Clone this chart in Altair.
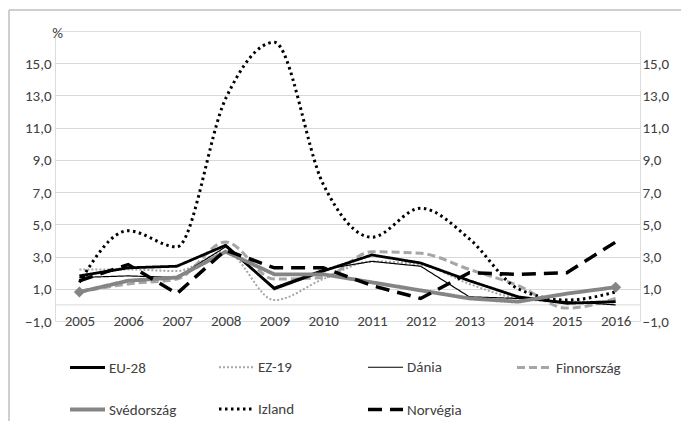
import altair as alt
import pandas as pd

years = [2005, 2006, 2007, 2008, 2009, 2010, 2011, 2012, 2013, 2014, 2015, 2016]
series_names = ["EU-28", "EZ-19", "Dánia", "Finnország", "Svédország", "Izland", "Norvégia"]
eu28 = [1.8, 2.3, 2.4, 3.7, 1.0, 2.1, 3.1, 2.6, 1.5, 0.5, 0.1, 0.2]
ez19 = [2.2, 2.2, 2.1, 3.3, 0.3, 1.6, 2.7, 2.5, 1.3, 0.4, 0.2, 0.2]
dania = [1.7, 1.8, 1.7, 3.6, 1.1, 2.2, 2.7, 2.4, 0.5, 0.4, 0.2, 0.0]
finnorszag = [0.8, 1.3, 1.6, 3.9, 1.6, 1.7, 3.3, 3.2, 2.2, 1.2, -0.2, 0.4]
svedorszag = [0.8, 1.5, 1.7, 3.3, 1.9, 1.9, 1.4, 0.9, 0.4, 0.2, 0.7, 1.1]
izland = [1.4, 4.6, 3.6, 12.8, 16.3, 7.5, 4.2, 6.0, 4.1, 1.0, 0.3, 0.8]
norvegia = [1.5, 2.5, 0.7, 3.4, 2.3, 2.3, 1.2, 0.4, 2.0, 1.9, 2.0, 3.9]
y_ticks = [-1, 1, 3, 5, 7, 9, 11, 13, 15]

values = [eu28, ez19, dania, finnorszag, svedorszag, izland, norvegia]
rows = []
for name, vals in zip(series_names, values):
    for yr, v in zip(years, vals):
        rows.append({"year": yr, "series": name, "value": v})
df = pd.DataFrame(rows)

smooth_set = ["EZ-19", "Finnország", "Izland"]
FONT = "Carlito, Liberation Sans Narrow, Liberation Sans, sans-serif"
TXT = "#404040"
FS = 15

colors = ["#000000", "#A6A6A6", "#000000", "#A6A6A6", "#858585", "#000000", "#000000"]
dashes = [[1, 0], [2, 2], [1, 0], [8, 4], [1, 0], [2.5, 3.5], [14, 8]]
widths = [2.8, 2, 1.2, 3, 3.8, 3, 3.5]

legend = alt.Legend(
    title=None, orient="none", legendX=13, legendY=317, columns=4, direction="horizontal",
    symbolType="stroke", symbolSize=1225, gridAlign="all",
    columnPadding=35, rowPadding=14, labelFontSize=FS, labelFont=FONT,
    labelColor=TXT, labelOffset=2,
)

color_enc = alt.Color("series:N", scale=alt.Scale(domain=series_names, range=colors), legend=legend)
dash_enc = alt.StrokeDash("series:N", scale=alt.Scale(domain=series_names, range=dashes), legend=legend)
width_enc = alt.StrokeWidth("series:N", scale=alt.Scale(type="ordinal", domain=series_names, range=widths), legend=legend)

yscale = alt.Scale(domain=[-1, 17], nice=False, zero=False)
xenc = alt.X("year:O", title=None, axis=alt.Axis(labelAngle=0, domain=False, ticks=False,
             labelPadding=-1, labelBaseline="middle", labelFontSize=FS, labelFont=FONT,
             labelColor=TXT, grid=False))

label_expr = "replace(format(datum.value, '.1f'), '.', ',')"
yleft = alt.Y("value:Q", scale=yscale, title="%",
              axis=alt.Axis(orient="left", values=y_ticks, labelExpr=label_expr, domain=False, ticks=False,
                            labelPadding=4, labelFontSize=FS, labelFont=FONT, labelColor=TXT,
                            grid=True, gridColor={"condition": {"test": "datum.value === -1", "value": "transparent"}, "value": "#D9D9D9"},
                            titleAngle=0, titleX=2, titleY=1, titleAlign="center", titleBaseline="middle",
                            titleFontSize=FS, titleFont=FONT, titleFontWeight="normal", titleColor=TXT))
ynone = alt.Y("value:Q", scale=yscale, axis=None)
yright = alt.Y("value:Q", scale=yscale, title=None,
               axis=alt.Axis(orient="right", values=y_ticks, labelExpr=label_expr, domain=False, ticks=False,
                             labelPadding=2, labelFontSize=FS, labelFont=FONT, labelColor=TXT, grid=False))

base = alt.Chart(df)

left_axis = base.mark_line(opacity=0).encode(x=xenc, y=yleft, detail="series:N")
right_axis = base.mark_line(opacity=0).encode(x=xenc, y=yright, detail="series:N")

zero = alt.Chart(pd.DataFrame({"z": [0]})).mark_rule(color="#D9D9D9", strokeWidth=1).encode(
    y=alt.Y("z:Q", scale=yscale, axis=None))

lines_lin = base.transform_filter(
    alt.FieldOneOfPredicate(field="series", oneOf=[s for s in series_names if s not in smooth_set])
).mark_line().encode(x=xenc, y=ynone, color=color_enc, strokeDash=dash_enc, strokeWidth=width_enc)

lines_smooth = base.transform_filter(
    alt.FieldOneOfPredicate(field="series", oneOf=smooth_set)
).mark_line(interpolate="monotone").encode(x=xenc, y=ynone, color=color_enc, strokeDash=dash_enc,
                                            strokeWidth=width_enc)

diamonds = base.transform_filter(
    (alt.datum.series == "Svédország") & ((alt.datum.year == years[0]) | (alt.datum.year == years[-1]))
).mark_point(shape="diamond", filled=True, size=120, opacity=1, color="#858585").encode(x=xenc, y=ynone)

frame_data = alt.Data(values=[{"a": 1}])
frame_left = alt.Chart(frame_data).mark_rule(color="#BFBFBF", strokeWidth=1.5).encode(
    x=alt.value(-46), y=alt.value(-21), y2=alt.value(420))
frame_top = alt.Chart(frame_data).mark_rule(color="#BFBFBF", strokeWidth=1.5).encode(
    x=alt.value(-46), x2=alt.value(700), y=alt.value(-21))

chart = alt.layer(frame_left, frame_top, left_axis, zero, lines_smooth, lines_lin, diamonds, right_axis).resolve_axis(
    y="independent").resolve_scale(y="shared").properties(
    width=585, height=290, autosize=alt.AutoSizeParams(type="none"),
    padding={"left": 47, "top": 23, "right": 41, "bottom": 100},
).configure_view(stroke=None).configure(background="white")

chart.save("out.html", embed_options={"renderer": "svg", "actions": False})
